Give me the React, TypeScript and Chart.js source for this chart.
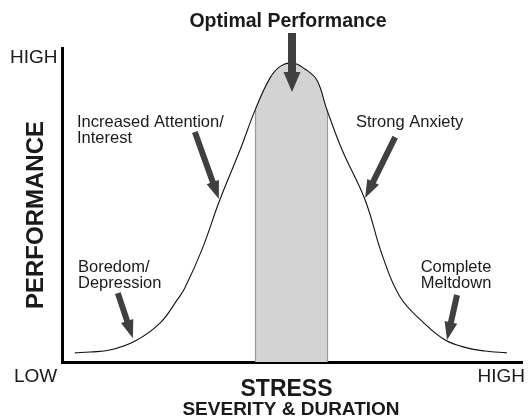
import React, { useEffect, useRef } from "react";
import { Chart, registerables } from "chart.js";

Chart.register(...registerables);

// Stress level (0 = low, 100 = high) and performance (0 = low, 100 = high)
const stressLevels = [2.8, 6.1, 10.4, 15.9, 21.3, 25.0, 26.7, 30.4, 34.3, 38.7, 42.0, 45.2, 47.6, 50.2, 52.8, 55.4, 57.6, 60.9, 65.9, 69.6, 73.5, 78.7, 83.3, 88.0, 92.0, 96.7];
const performance = [2.9, 3.2, 3.8, 6.7, 12.4, 19.7, 23.6, 35.7, 51.6, 67.5, 80.3, 90.4, 94.3, 95.2, 93.3, 89.8, 80.3, 67.5, 51.6, 34.1, 20.7, 12.4, 7.0, 4.5, 3.5, 2.9];

// Optimal zone on the stress axis
const optimalZone = [42.0, 57.6];

// Arrow tips (stress, performance) on the curve
const arrowTips = [
  [15.4, 7.6],
  [34.1, 51.9],
  [50.0, 86.0],
  [65.9, 52.2],
  [83.7, 7.0],
];

const annotationLines = [
  ["Boredom/", "Depression"],
  ["Increased Attention/", "Interest"],
  ["Optimal Performance"],
  ["Strong Anxiety"],
  ["Complete", "Meltdown"],
];

const axisLabels = { yHigh: "HIGH", yLow: "LOW", xHigh: "HIGH", yTitle: "PERFORMANCE", xTitle: "STRESS", xSubtitle: "SEVERITY & DURATION" };

// ---- layout / style (not data) ----
const FONT = '"Liberation Sans", Arial, Helvetica, sans-serif';
const TEXT = "#1a1a1a";
const ARROW = "#404040";

const arrowStyle = [
  { dx: -15, dy: -45, shaft: 6, head: 13, headLen: 18 },
  { dx: -24, dy: -67, shaft: 6, head: 13, headLen: 18 },
  { dx: 0, dy: -59, shaft: 8, head: 17, headLen: 20 },
  { dx: 30, dy: -61, shaft: 6, head: 13, headLen: 18 },
  { dx: 10, dy: -45, shaft: 6, head: 13, headLen: 18 },
];

const labelLayout = [
  { x: 78, y: 272, align: "left", font: `16.5px ${FONT}` },
  { x: 77, y: 127, align: "left", font: `16.5px ${FONT}` },
  { x: 288, y: 27, align: "center", font: `bold 19.5px ${FONT}` },
  { x: 356, y: 127, align: "left", font: `16.5px ${FONT}` },
  { x: 456, y: 272, align: "center", font: `16.5px ${FONT}` },
];

function drawArrow(ctx: CanvasRenderingContext2D, tx: number, ty: number, sx: number, sy: number, shaft: number, head: number, headLen: number) {
  const dx = tx - sx, dy = ty - sy;
  const len = Math.hypot(dx, dy);
  const ux = dx / len, uy = dy / len;
  const px = -uy, py = ux;
  const bx = tx - ux * headLen, by = ty - uy * headLen;
  ctx.beginPath();
  ctx.moveTo(sx + px * shaft / 2, sy + py * shaft / 2);
  ctx.lineTo(bx + px * shaft / 2, by + py * shaft / 2);
  ctx.lineTo(bx + px * head / 2, by + py * head / 2);
  ctx.lineTo(tx, ty);
  ctx.lineTo(bx - px * head / 2, by - py * head / 2);
  ctx.lineTo(bx - px * shaft / 2, by - py * shaft / 2);
  ctx.lineTo(sx - px * shaft / 2, sy - py * shaft / 2);
  ctx.closePath();
  ctx.fillStyle = ARROW;
  ctx.fill();
}

const shadePlugin = {
  id: "shade",
  beforeDatasetsDraw(chart: any) {
    const ctx: CanvasRenderingContext2D = chart.ctx;
    const xs = chart.scales.x, ys = chart.scales.y;
    const meta = chart.getDatasetMeta(0);
    const line = meta.dataset;
    const pts = meta.data;
    const x0 = xs.getPixelForValue(optimalZone[0]);
    const x1 = xs.getPixelForValue(optimalZone[1]);
    const yb = ys.getPixelForValue(0);
    const top = chart.chartArea.top;
    ctx.save();
    ctx.beginPath();
    ctx.rect(x0, top, x1 - x0, yb - top);
    ctx.clip();
    ctx.beginPath();
    if (line && typeof line.path === "function") {
      line.path(ctx);
    } else {
      pts.forEach((p: any, i: number) => (i ? ctx.lineTo(p.x, p.y) : ctx.moveTo(p.x, p.y)));
    }
    ctx.lineTo(pts[pts.length - 1].x, yb);
    ctx.lineTo(pts[0].x, yb);
    ctx.closePath();
    ctx.fillStyle = "#d3d3d3";
    ctx.fill();
    ctx.restore();
    // edges
    ctx.save();
    ctx.strokeStyle = "#9a9a9a";
    ctx.lineWidth = 1.2;
    optimalZone.forEach((zx) => {
      const idx = stressLevels.indexOf(zx);
      const yv = idx >= 0 ? performance[idx] : 0;
      const px = Math.round(xs.getPixelForValue(zx)) + 0.5;
      ctx.beginPath();
      ctx.moveTo(px, ys.getPixelForValue(yv));
      ctx.lineTo(px, yb);
      ctx.stroke();
    });
    ctx.restore();
  },
  afterDraw(chart: any) {
    const ctx: CanvasRenderingContext2D = chart.ctx;
    const xs = chart.scales.x, ys = chart.scales.y;
    const area = chart.chartArea;
    ctx.save();
    arrowTips.forEach(([ax, ay], i) => {
      const st = arrowStyle[i];
      const tx = xs.getPixelForValue(ax), ty = ys.getPixelForValue(ay);
      drawArrow(ctx, tx, ty, tx + st.dx, ty + st.dy, st.shaft, st.head, st.headLen);
    });
    ctx.fillStyle = TEXT;
    ctx.textBaseline = "alphabetic";
    annotationLines.forEach((lines, i) => {
      const l = labelLayout[i];
      ctx.font = l.font;
      ctx.textAlign = l.align as CanvasTextAlign;
      lines.forEach((t, j) => ctx.fillText(t, l.x, l.y + j * 16));
    });
    ctx.font = `19px ${FONT}`;
    ctx.textAlign = "left";
    ctx.fillText(axisLabels.yHigh, area.left - 52, area.top + 15);
    ctx.fillText(axisLabels.yLow, area.left - 48, area.bottom + 20);
    ctx.textAlign = "right";
    ctx.fillText(axisLabels.xHigh, area.right + 3, area.bottom + 20);
    ctx.textAlign = "center";
    ctx.font = `bold 23px ${FONT}`;
    ctx.fillText(axisLabels.xTitle, 286.5, area.bottom + 34);
    ctx.font = `bold 19px ${FONT}`;
    ctx.fillText(axisLabels.xSubtitle, 291, area.bottom + 53);
    ctx.save();
    ctx.translate(area.left - 19, 215);
    ctx.rotate(-Math.PI / 2);
    ctx.font = `bold 24px ${FONT}`;
    ctx.textAlign = "center";
    ctx.fillText(axisLabels.yTitle, 0, 0);
    ctx.restore();
    ctx.restore();
  },
};

export default function App() {
  const ref = useRef<HTMLCanvasElement>(null);
  useEffect(() => {
    if (!ref.current) return;
    const points = stressLevels.map((x, i) => ({ x, y: performance[i] }));
    const chart = new Chart(ref.current, {
      type: "line",
      data: {
        datasets: [
          {
            data: points,
            borderColor: "#111",
            borderWidth: 1.1,
            pointRadius: 0,
            fill: false,
            tension: 0.4,
          },
        ],
      },
      options: {
        animation: false,
        responsive: false,
        devicePixelRatio: 1,
        layout: { padding: { left: 62, right: 8, top: 48, bottom: 57 } },
        plugins: { legend: { display: false }, tooltip: { enabled: false } },
        events: [],
        scales: {
          x: {
            type: "linear",
            min: 0,
            max: 100,
            grid: { display: false, drawTicks: false },
            ticks: { display: false },
            border: { display: true, color: "#000", width: 3 },
          },
          y: {
            type: "linear",
            min: 0,
            max: 100,
            grid: { display: false, drawTicks: false },
            ticks: { display: false },
            border: { display: true, color: "#000", width: 3 },
          },
        },
      },
      plugins: [shadePlugin],
    } as any);
    return () => chart.destroy();
  }, []);
  return (
    <div style={{ position: "absolute", left: 0, top: 0, width: 530, height: 419, background: "#fff" }}>
      <canvas ref={ref} width={530} height={419} style={{ display: "block" }} />
    </div>
  );
}
